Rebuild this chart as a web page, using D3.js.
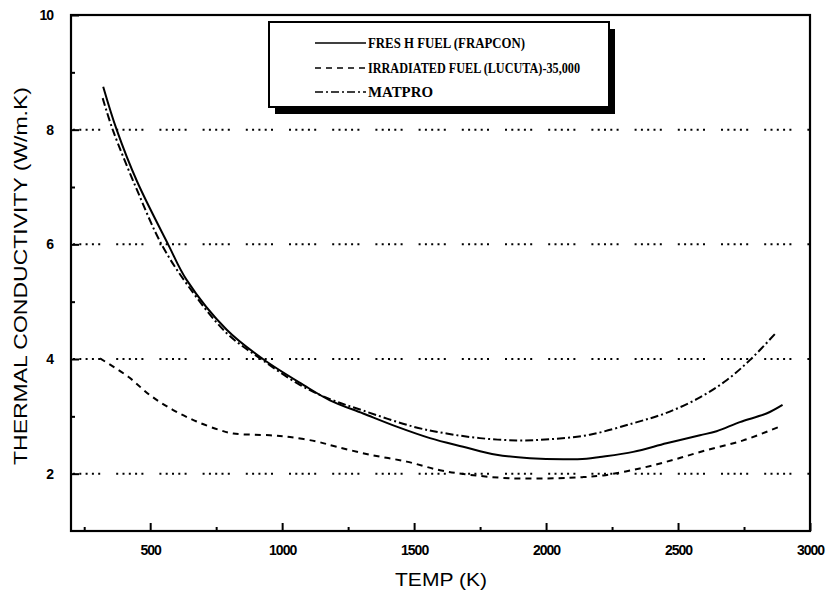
<!DOCTYPE html>
<html><head><meta charset="utf-8">
<script src="https://cdn.jsdelivr.net/npm/d3@7"></script>
<style>body{margin:0;background:#fff}</style>
</head><body>
<svg id="chart" width="830" height="597"></svg>
<script>
// ---- data ----
const freshT = [322, 373, 450, 568, 638, 790, 927, 1080, 1181, 1307, 1434, 1560, 1686, 1812, 1939, 2065, 2153, 2204, 2330, 2456, 2583, 2646, 2734, 2835, 2896];
const freshK = [8.75, 8.0, 7.1, 6.0, 5.38, 4.51, 4.0, 3.55, 3.28, 3.05, 2.82, 2.62, 2.47, 2.33, 2.27, 2.25, 2.26, 2.29, 2.38, 2.53, 2.67, 2.74, 2.9, 3.05, 3.2];
const irrT = [310, 417, 499, 587, 676, 764, 815, 954, 1030, 1131, 1206, 1333, 1472, 1598, 1711, 1863, 2040, 2140, 2216, 2355, 2481, 2608, 2747, 2885];
const irrK = [4.01, 3.69, 3.37, 3.11, 2.91, 2.76, 2.70, 2.67, 2.64, 2.56, 2.47, 2.33, 2.21, 2.06, 1.98, 1.92, 1.92, 1.94, 1.97, 2.09, 2.24, 2.41, 2.58, 2.82];
const matT = [320, 358, 450, 543, 640, 790, 920, 1067, 1181, 1307, 1497, 1623, 1749, 1888, 2014, 2166, 2330, 2456, 2583, 2684, 2772, 2870];
const matK = [8.55, 8.0, 6.95, 6.0, 5.3, 4.45, 4.0, 3.55, 3.30, 3.10, 2.82, 2.70, 2.62, 2.58, 2.60, 2.68, 2.88, 3.06, 3.33, 3.63, 3.98, 4.45];
const seriesNames = ["FRES H FUEL (FRAPCON)", "IRRADIATED FUEL (LUCUTA)-35,000", "MATPRO"];
const xTicks = [500, 1000, 1500, 2000, 2500, 3000];
const xMinor = [250, 750, 1250, 1750, 2250, 2750];
const yTicks = [2, 4, 6, 8, 10];
const yMinor = [3, 5, 7, 9];
const gridVals = [2, 4, 6, 8];

// ---- layout ----
const L = 71, R = 810, T = 15, B = 531;
const svg = d3.select("#chart");
const x = d3.scaleLinear().domain([200, 3000]).range([L, R]);
const y = d3.scaleLinear().domain([1, 10]).range([B, T]);

// grid
const dotted = "2,4.3,2,4.3,2,4.3,2,4.3,2,16";
svg.append("g").selectAll("line").data(gridVals).join("line")
  .attr("x1", L + 2).attr("x2", R).attr("y1", d => y(d)).attr("y2", d => y(d))
  .attr("stroke", "#000").attr("stroke-width", 2).attr("stroke-dasharray", dotted);

// axes (inward ticks)
const tickFont = "'Liberation Sans', Arial, sans-serif";
function styleAxis(g) {
  g.select(".domain").remove();
  g.selectAll(".tick line").attr("stroke", "#000").attr("stroke-width", 2);
  g.selectAll("text").attr("font-family", tickFont).attr("font-size", 14)
   .attr("font-weight", "bold").attr("letter-spacing", "-1px").attr("fill", "#000");
}
svg.append("g").attr("transform", `translate(0,${B})`)
  .call(d3.axisBottom(x).tickValues(xTicks).tickSize(-8).tickPadding(14).tickFormat(d3.format("d")))
  .call(styleAxis);
svg.append("g").attr("transform", `translate(0,${B})`)
  .call(d3.axisBottom(x).tickValues(xMinor).tickSize(-4).tickFormat(""))
  .call(styleAxis);
svg.append("g").attr("transform", `translate(${L},0)`)
  .call(d3.axisLeft(y).tickValues(yTicks).tickSize(-8).tickPadding(18).tickFormat(d3.format("d")))
  .call(styleAxis);
svg.append("g").attr("transform", `translate(${L},0)`)
  .call(d3.axisLeft(y).tickValues(yMinor).tickSize(-4).tickFormat(""))
  .call(styleAxis);

// frame
svg.append("rect").attr("x", L).attr("y", T).attr("width", R - L).attr("height", B - T)
  .attr("fill", "none").attr("stroke", "#000").attr("stroke-width", 2.2);

// curves
const styles = [null, "6,5", "8,3,2,3"];
const sets = [[freshT, freshK], [irrT, irrK], [matT, matK]];
const line = d3.line().x(d => x(d[0])).y(d => y(d[1])).curve(d3.curveCatmullRom.alpha(0.5));
sets.forEach((s, i) => {
  const pts = s[0].map((t, j) => [t, s[1][j]]);
  svg.append("path").attr("d", line(pts)).attr("fill", "none")
    .attr("stroke", "#000").attr("stroke-width", 2)
    .attr("stroke-dasharray", styles[i]);
});

// legend
const lx = 269, ly = 22, lw = 340, lh = 85;
svg.append("rect").attr("x", lx + 6).attr("y", ly + 7).attr("width", lw).attr("height", lh).attr("fill", "#000");
svg.append("rect").attr("x", lx).attr("y", ly).attr("width", lw).attr("height", lh)
  .attr("fill", "#fff").attr("stroke", "#000").attr("stroke-width", 2);
const rowY = [43, 68, 92];
const txtW = [157, 212, 65];
seriesNames.forEach((n, i) => {
  svg.append("line").attr("x1", 315).attr("x2", 366).attr("y1", rowY[i]).attr("y2", rowY[i])
    .attr("stroke", "#000").attr("stroke-width", 1.6).attr("stroke-dasharray", styles[i]);
  svg.append("text").attr("x", 368).attr("y", rowY[i] + 5).text(n)
    .attr("font-family", "'Liberation Serif', 'Times New Roman', serif")
    .attr("font-weight", "bold").attr("font-size", 14)
    .attr("textLength", txtW[i]).attr("lengthAdjust", "spacingAndGlyphs");
});

// axis titles
svg.append("text").attr("x", 441).attr("y", 586).attr("text-anchor", "middle")
  .attr("font-family", tickFont).attr("font-size", 18)
  .attr("textLength", 92).attr("lengthAdjust", "spacingAndGlyphs").text("TEMP (K)");
svg.append("text").attr("transform", "translate(27,276) rotate(-90)").attr("text-anchor", "middle")
  .attr("font-family", tickFont).attr("font-size", 18)
  .attr("textLength", 378).attr("lengthAdjust", "spacingAndGlyphs").text("THERMAL CONDUCTIVITY (W/m.K)");
</script>
</body></html>
